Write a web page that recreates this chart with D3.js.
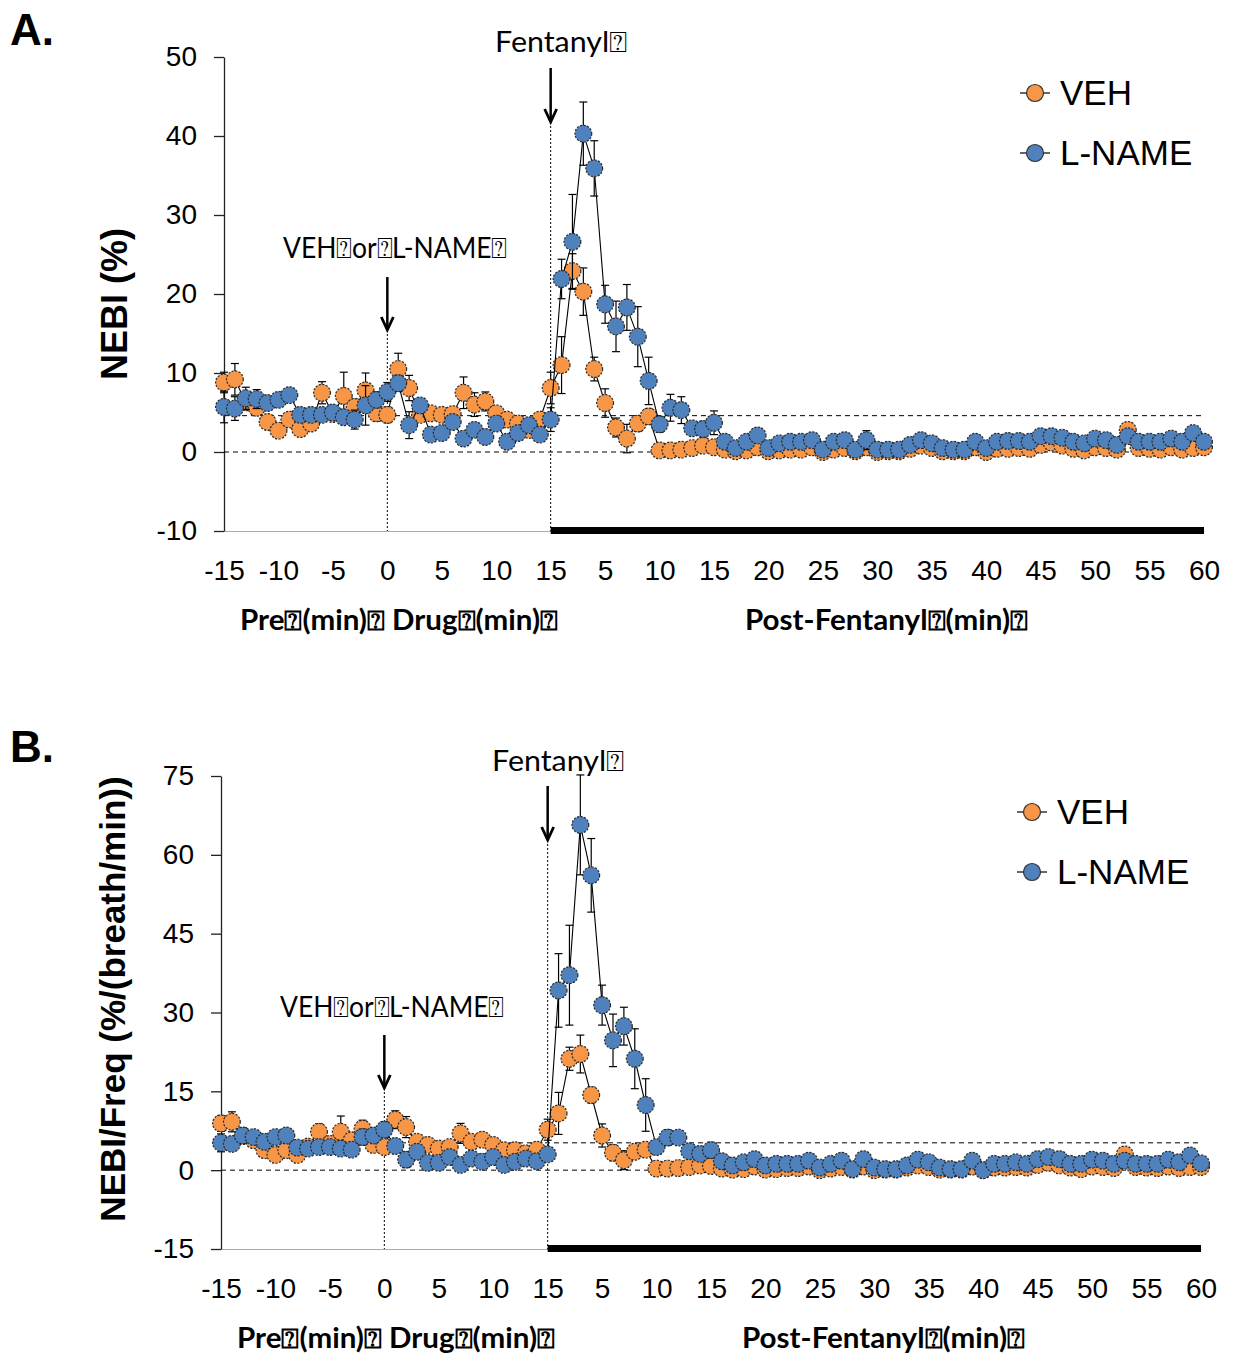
<!DOCTYPE html>
<html>
<head>
<meta charset="utf-8">
<script src="https://cdn.jsdelivr.net/npm/d3@7"></script>
<style>
  body { margin: 0; background: #fff; }
  svg text { font-family: "Liberation Sans", Arial, sans-serif; fill: #000; }
  svg text.note { font-family: Lato, "Open Sans", sans-serif; }
</style>
</head>
<body>
<svg id="chart" width="1238" height="1355"></svg>
<script>
// minutes on one continuous axis: pre -15..-1, drug 0..14, post-fentanyl 15..75
var minutes = [-15,-14,-13,-12,-11,-10,-9,-8,-7,-6,-5,-4,-3,-2,-1,
  0,1,2,3,4,5,6,7,8,9,10,11,12,13,14,
  15,16,17,18,19,20,21,22,23,24,25,26,27,28,29,30,31,32,33,34,35,36,37,38,39,40,
  41,42,43,44,45,46,47,48,49,50,51,52,53,54,55,56,57,58,59,60,61,62,63,64,65,66,
  67,68,69,70,71,72,73,74,75];

var xTickValues = [-15,-10,-5,0,5,10,15,20,25,30,35,40,45,50,55,60,65,70,75];
var xTickLabels = ["-15","-10","-5","0","5","10","15","5","10","15","20","25","30","35","40","45","50","55","60"];

var yTicksA = [-10,0,10,20,30,40,50];
var yTicksB = [-15,0,15,30,45,60,75];

// ---- A. NEBI (%) ----
var vehA = [8.8,9.2,6.3,5.6,3.8,2.7,4.1,2.9,3.6,7.5,4.8,7.1,5.7,7.8,4.9,
  4.7,10.5,8.1,4.7,4.9,4.7,4.8,7.5,6.0,6.4,4.9,4.1,3.6,2.8,4.1,
  8.1,11.0,22.9,20.3,10.5,6.2,3.1,1.7,3.6,4.5,
  0.2,0.2,0.3,0.5,0.8,0.6,0.3,0.1,0.2,0.6,
  0.1,0.2,0.3,0.3,0.6,0.0,0.3,0.5,0.1,0.6,
  0.0,0.1,0.1,0.4,0.8,0.5,0.1,0.1,0.1,0.6,
  0.0,0.4,0.4,0.5,0.4,0.9,1.2,0.8,0.4,0.2,
  0.6,0.5,0.3,2.8,0.5,0.4,0.3,0.6,0.3,0.5,0.6];
var vehAErr = [1.3,2.0,1.0,0.8,0.8,0.8,0.8,0.8,0.8,1.4,0.8,3.0,1.0,2.2,1.0,
  1.0,2.0,1.6,0.8,0.8,0.8,0.8,2.0,1.5,1.2,0.8,0.8,0.8,0.8,0.8,
  2.0,3.6,2.2,3.0,1.5,1.8,1.2,1.8,1.0,1.0,
  0.4,0.4,0.4,0.5,0.6,0.5,0.4,0.3,0.3,0.5,
  0.3,0.3,0.4,0.4,0.5,0.3,0.4,0.5,0.3,0.5,
  0.3,0.3,0.3,0.4,0.6,0.5,0.3,0.3,0.3,0.5,
  0.3,0.4,0.4,0.5,0.4,0.6,0.7,0.6,0.4,0.3,
  0.5,0.5,0.4,0.9,0.5,0.4,0.4,0.5,0.4,0.5,0.5];
var lnameA = [5.7,5.5,6.8,6.7,6.2,6.6,7.2,4.7,4.7,4.7,5.0,4.4,4.1,5.9,6.6,
  7.6,8.7,3.4,5.9,2.2,2.4,3.8,1.7,2.8,1.9,3.6,1.3,2.4,3.4,2.2,
  4.1,21.9,26.6,40.3,35.9,18.7,15.9,18.3,14.6,9.0,
  3.5,5.6,5.3,3.0,2.9,3.7,1.3,0.5,1.3,2.1,
  0.5,1.1,1.3,1.3,1.5,0.3,1.3,1.5,0.3,1.5,
  0.3,0.3,0.3,0.9,1.5,1.1,0.5,0.3,0.3,1.3,
  0.5,1.3,1.4,1.4,1.3,2.0,2.0,1.8,1.3,1.1,
  1.7,1.5,0.9,2.0,1.3,1.3,1.3,1.7,1.3,2.4,1.3];
var lnameAErr = [2.0,1.5,1.4,1.2,0.8,0.8,0.8,0.8,0.8,0.8,0.8,0.8,1.2,2.5,1.0,
  1.2,1.0,1.7,0.8,0.8,0.8,0.8,0.8,0.8,0.8,0.8,0.8,0.8,0.8,0.8,
  1.5,2.5,6.0,4.0,3.5,2.4,3.2,2.9,3.8,3.0,
  1.0,1.7,1.7,0.8,1.0,1.5,0.6,0.5,0.6,0.8,
  0.5,0.6,0.6,0.6,0.6,0.4,0.6,0.6,0.4,1.2,
  0.4,0.4,0.4,0.5,0.6,0.6,0.4,0.4,0.4,0.6,
  0.4,0.6,0.6,0.6,0.6,0.7,0.7,0.6,0.6,0.5,
  0.6,0.6,0.5,0.7,0.6,0.6,0.6,0.6,0.6,0.8,0.6];

// ---- B. NEBI/Freq ----
var vehB = [8.9,9.2,6.5,5.7,3.8,2.9,3.8,2.9,4.5,7.3,5.0,7.3,5.7,7.9,4.8,
  4.4,9.6,8.2,5.4,4.8,4.1,4.4,7.0,5.4,5.8,4.8,3.8,3.8,3.2,3.9,
  7.7,10.8,21.2,22.1,14.3,6.6,3.3,1.9,3.5,3.9,
  0.3,0.3,0.4,0.6,0.9,0.8,0.3,0.1,0.2,0.7,
  0.1,0.2,0.4,0.4,0.7,0.0,0.3,0.6,0.1,0.7,
  0.0,0.1,0.1,0.5,0.9,0.6,0.1,0.1,0.1,0.7,
  0.0,0.5,0.5,0.6,0.5,1.0,1.4,0.9,0.5,0.2,
  0.7,0.6,0.4,3.0,0.6,0.5,0.4,0.7,0.4,0.6,0.6];
var vehBErr = [1.5,1.9,1.2,1.0,1.0,1.0,1.0,1.0,1.0,1.5,1.0,3.0,1.2,1.6,1.2,
  1.2,1.7,2.0,1.0,1.0,1.0,1.0,1.9,1.2,1.2,1.0,1.0,1.0,1.0,1.0,
  2.0,4.0,2.2,3.6,1.5,2.2,1.5,1.8,1.2,1.0,
  0.5,0.5,0.5,0.6,0.8,0.7,0.5,0.4,0.4,0.6,
  0.4,0.4,0.5,0.5,0.6,0.4,0.5,0.6,0.4,0.6,
  0.4,0.4,0.4,0.5,0.8,0.6,0.4,0.4,0.4,0.6,
  0.4,0.5,0.5,0.6,0.5,0.8,0.9,0.7,0.5,0.4,
  0.6,0.6,0.5,1.1,0.6,0.5,0.5,0.6,0.5,0.6,0.6];
var lnameB = [5.2,5.0,6.6,6.3,5.4,6.3,6.6,4.3,4.1,4.4,4.4,4.1,3.9,6.3,6.6,
  7.7,4.6,2.0,3.5,1.4,1.4,2.5,1.0,2.2,1.6,2.5,1.0,1.6,2.2,1.7,
  3.0,34.2,37.1,65.7,56.1,31.4,24.7,27.4,21.2,12.4,
  4.4,6.2,6.2,3.6,3.1,3.8,1.7,0.9,1.5,2.1,
  0.9,1.2,1.2,1.2,1.8,0.5,1.2,1.8,0.2,2.1,
  0.5,0.2,0.2,0.9,2.0,1.5,0.5,0.2,0.2,1.8,
  0.0,1.2,1.2,1.5,1.2,2.1,2.5,2.1,1.2,1.2,
  2.0,1.8,1.2,1.8,1.2,1.2,1.2,2.0,1.5,2.8,1.3];
var lnameBErr = [1.7,1.3,1.5,1.2,1.0,1.0,1.0,1.0,1.0,1.0,1.0,1.0,1.2,1.5,1.2,
  1.5,1.2,1.5,1.0,1.0,1.0,1.0,1.0,1.0,1.0,1.0,1.0,1.0,1.0,1.0,
  1.0,7.0,9.5,9.5,7.0,3.8,5.0,3.6,5.7,5.0,
  1.2,1.5,1.2,1.0,1.0,1.5,0.8,0.6,0.8,1.0,
  0.6,0.7,0.7,0.7,0.8,0.5,0.7,0.8,0.5,1.2,
  0.5,0.5,0.5,0.6,0.8,0.8,0.5,0.5,0.5,0.8,
  0.5,0.7,0.7,0.8,0.7,0.9,0.9,0.8,0.7,0.7,
  0.8,0.8,0.7,0.9,0.7,0.7,0.7,0.8,0.7,1.0,0.7];

var seriesNames = ["VEH", "L-NAME"];
var seriesColors = ["#F79646", "#4F81BD"];

var svg = d3.select('#chart');

function drawArrow(g, x, y1, y2) {
  g.append('line').attr('x1', x).attr('x2', x).attr('y1', y1).attr('y2', y2 - 2)
    .attr('stroke', '#000').attr('stroke-width', 2.5);
  g.append('path').attr('d', `M${x - 6},${y2 - 13}L${x},${y2}L${x + 6},${y2 - 13}`)
    .attr('fill', 'none').attr('stroke', '#000').attr('stroke-width', 2.8);
}

function drawPanel(p) {
  var x = d3.scaleLinear().domain([-15, 75]).range([p.left, p.left + 980]);
  var y = d3.scaleLinear().domain(p.yDomain).range([p.bottom, p.top]);
  var g = svg.append('g');

  // x axis: thin grey baseline, labels only
  var xAxis = g.append('g').attr('transform', `translate(0,${p.bottom})`)
    .call(d3.axisBottom(x).tickValues(xTickValues)
      .tickFormat((d, i) => xTickLabels[i]).tickSize(0).tickPadding(29));
  xAxis.select('.domain').attr('stroke', '#aaa');
  xAxis.selectAll('text').attr('font-size', 28).attr('font-family', '"Liberation Sans", Arial');

  // thick bar under the post-fentanyl period
  g.append('rect').attr('x', x(15)).attr('y', p.bottom - 4)
    .attr('width', x(75) - x(15)).attr('height', 7).attr('fill', '#000');

  // y axis
  var yAxis = g.append('g').attr('transform', `translate(${p.left},0)`)
    .call(d3.axisLeft(y).tickValues(p.yTicks).tickFormat(d => String(d))
      .tickSize(10).tickSizeOuter(0).tickPadding(17));
  yAxis.select('.domain').attr('stroke', '#222').attr('stroke-width', 1.3);
  yAxis.selectAll('.tick line').attr('stroke', '#222').attr('stroke-width', 1.3);
  yAxis.selectAll('text').attr('font-size', 28).attr('font-family', '"Liberation Sans", Arial');

  g.append('text')
    .attr('transform', `translate(${p.titleX},${p.titleY}) rotate(-90)`)
    .attr('text-anchor', 'middle').attr('font-weight', 'bold')
    .attr('font-size', p.titleSize).text(p.yTitle);

  // reference lines
  g.append('line').attr('x1', x(-15)).attr('x2', x(75)).attr('y1', y(0)).attr('y2', y(0))
    .attr('stroke', '#000').attr('stroke-dasharray', '5,4');
  g.append('line').attr('x1', x(-15)).attr('x2', x(75)).attr('y1', y(p.threshold)).attr('y2', y(p.threshold))
    .attr('stroke', '#000').attr('stroke-dasharray', '5,4');
  g.append('line').attr('x1', x(0)).attr('x2', x(0)).attr('y1', p.drugArrow[1]).attr('y2', p.bottom)
    .attr('stroke', '#000').attr('stroke-dasharray', '2,2');
  g.append('line').attr('x1', x(15)).attr('x2', x(15)).attr('y1', p.fentArrow[1]).attr('y2', p.bottom)
    .attr('stroke', '#000').attr('stroke-dasharray', '2,2');

  drawArrow(g, x(0), p.drugArrow[0], p.drugArrow[1]);
  drawArrow(g, x(15), p.fentArrow[0], p.fentArrow[1]);

  // series: error bars, connecting line, markers
  p.series.forEach(function (s, k) {
    var pts = minutes.map((m, i) => ({ m: m, v: s.values[i], e: s.errs[i] }));
    var sg = g.append('g');

    var eb = sg.selectAll('.eb').data(pts).enter().append('g')
      .attr('stroke', '#000').attr('stroke-width', 1.2);
    eb.append('line').attr('x1', d => x(d.m)).attr('x2', d => x(d.m))
      .attr('y1', d => y(d.v - d.e)).attr('y2', d => y(d.v + d.e));
    eb.append('line').attr('x1', d => x(d.m) - 4).attr('x2', d => x(d.m) + 4)
      .attr('y1', d => y(d.v + d.e)).attr('y2', d => y(d.v + d.e));
    eb.append('line').attr('x1', d => x(d.m) - 4).attr('x2', d => x(d.m) + 4)
      .attr('y1', d => y(d.v - d.e)).attr('y2', d => y(d.v - d.e));

    sg.append('path').datum(pts)
      .attr('d', d3.line().x(d => x(d.m)).y(d => y(d.v)))
      .attr('fill', 'none').attr('stroke', '#000').attr('stroke-width', 1.1);

    sg.selectAll('circle').data(pts).enter().append('circle')
      .attr('cx', d => x(d.m)).attr('cy', d => y(d.v)).attr('r', 8.4)
      .attr('fill', seriesColors[k]).attr('stroke', '#2a2a2a')
      .attr('stroke-width', 1.2).attr('stroke-dasharray', '2.2,1.4');
  });

  // legend
  seriesNames.forEach(function (name, k) {
    var ly = p.legendY + k * 60;
    g.append('line').attr('x1', p.legendX - 15).attr('x2', p.legendX + 15)
      .attr('y1', ly).attr('y2', ly).attr('stroke', '#000').attr('stroke-width', 1.2);
    g.append('circle').attr('cx', p.legendX).attr('cy', ly).attr('r', 8.5)
      .attr('fill', seriesColors[k]).attr('stroke', '#333').attr('stroke-width', 1.2);
    g.append('text').attr('x', p.legendX + 25).attr('y', ly + 12)
      .attr('font-size', 35).text(name);
  });

  // annotations
  g.append('text').attr('x', 10).attr('y', p.letterY).attr('font-size', 44)
    .attr('font-weight', 'bold').text(p.letter);
  g.append('text').attr('class', 'note').attr('x', p.left + 271).attr('y', p.fentTextY)
    .attr('font-size', 29).attr('textLength', 132).attr('lengthAdjust', 'spacingAndGlyphs')
    .text('Fentanyl⍰');
  g.append('text').attr('class', 'note').attr('x', p.left + 59).attr('y', p.drugTextY)
    .attr('font-size', 29).attr('textLength', 224).attr('lengthAdjust', 'spacingAndGlyphs')
    .text('VEH⍰or⍰L-NAME⍰');
  g.append('text').attr('class', 'note').attr('x', p.left + 16).attr('y', p.phaseY)
    .attr('font-size', 28).attr('font-weight', 'bold')
    .attr('textLength', 318).attr('lengthAdjust', 'spacingAndGlyphs')
    .text('Pre⍰(min)⍰ Drug⍰(min)⍰');
  g.append('text').attr('class', 'note').attr('x', p.left + 521).attr('y', p.phaseY)
    .attr('font-size', 28).attr('font-weight', 'bold')
    .attr('textLength', 283).attr('lengthAdjust', 'spacingAndGlyphs')
    .text('Post-Fentanyl⍰(min)⍰');
}

drawPanel({
  letter: 'A.', letterY: 45,
  left: 224, top: 57, bottom: 531, yDomain: [-10, 50], yTicks: yTicksA,
  yTitle: 'NEBI (%)', titleX: 127, titleY: 304, titleSize: 36,
  threshold: 4.6,
  drugArrow: [277, 330], fentArrow: [68, 122],
  fentTextY: 52, drugTextY: 258, phaseY: 630,
  legendX: 1035, legendY: 93,
  series: [{ values: vehA, errs: vehAErr }, { values: lnameA, errs: lnameAErr }]
});

drawPanel({
  letter: 'B.', letterY: 762,
  left: 221, top: 776, bottom: 1249, yDomain: [-15, 75], yTicks: yTicksB,
  yTitle: 'NEBI/Freq (%/(breath/min))', titleX: 125, titleY: 999, titleSize: 35,
  threshold: 5.2,
  drugArrow: [1035, 1088], fentArrow: [786, 840],
  fentTextY: 771, drugTextY: 1017, phaseY: 1348,
  legendX: 1032, legendY: 812,
  series: [{ values: vehB, errs: vehBErr }, { values: lnameB, errs: lnameBErr }]
});
</script>
</body>
</html>
